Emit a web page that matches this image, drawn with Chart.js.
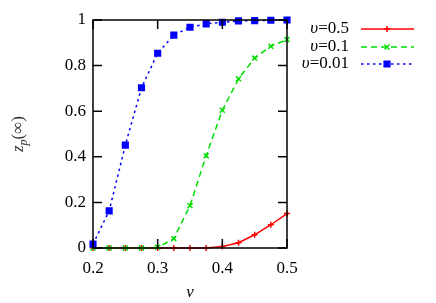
<!DOCTYPE html>
<html>
<head>
<meta charset="utf-8">
<script src="https://cdn.jsdelivr.net/npm/chart.js@4/dist/chart.umd.min.js"></script>
<style>
  html, body { margin:0; padding:0; background:#fff; }
  #wrap { width:436px; height:303px; }
</style>
</head>
<body>
<div id="wrap"><canvas id="c"></canvas></div>
<script>
// nu values on the x axis
const nu = [0.2, 0.225, 0.25, 0.275, 0.3, 0.325, 0.35, 0.375, 0.4, 0.425, 0.45, 0.475, 0.5];
// z_p(inf) for each upsilon
const zp05  = [0, 0, 0, 0, 0, 0, 0, 0, 0.007, 0.023, 0.058, 0.102, 0.151];
const zp01  = [0, 0, 0, 0, 0.003, 0.041, 0.186, 0.405, 0.604, 0.742, 0.833, 0.885, 0.914];
const zp001 = [0.017, 0.163, 0.451, 0.703, 0.854, 0.934, 0.968, 0.983, 0.99, 0.996, 0.997, 0.999, 1.0];
const seriesNames = ['0.5', '0.1', '0.01'];
const xTicks = [0.2, 0.3, 0.4, 0.5];
const yTicks = [0, 0.2, 0.4, 0.6, 0.8, 1];

const FONT = '"Liberation Serif", "DejaVu Serif", serif';
const pts = ys => nu.map((x, i) => ({ x, y: ys[i] }));

// inward ticks on all four sides + frame
const frame = {
  id: 'frame',
  afterDatasetsDraw(chart) {
    const { ctx, chartArea: a, scales: { x, y } } = chart;
    ctx.save();
    ctx.strokeStyle = '#000';
    ctx.lineWidth = 1.5;
    ctx.beginPath();
    xTicks.forEach(v => {
      const px = x.getPixelForValue(v);
      ctx.moveTo(px, a.bottom); ctx.lineTo(px, a.bottom - 9);
      ctx.moveTo(px, a.top); ctx.lineTo(px, a.top + 9);
    });
    yTicks.forEach(v => {
      const py = y.getPixelForValue(v);
      ctx.moveTo(a.left, py); ctx.lineTo(a.left + 9, py);
      ctx.moveTo(a.right, py); ctx.lineTo(a.right - 9, py);
    });
    ctx.stroke();
    ctx.strokeRect(a.left, a.top, a.right - a.left, a.bottom - a.top);
    ctx.restore();
  }
};

// axis titles (subscript on y) and gnuplot style legend
const labels = {
  id: 'labels',
  afterDraw(chart) {
    const { ctx, chartArea: a } = chart;
    ctx.save();
    ctx.fillStyle = '#000';
    ctx.textBaseline = 'middle';
    // x title
    ctx.font = 'italic 17px ' + FONT;
    ctx.textAlign = 'center';
    ctx.fillText('ν', (a.left + a.right) / 2, 293);

    // y title, rotated
    ctx.translate(19, (a.top + a.bottom) / 2);
    ctx.rotate(-Math.PI / 2);
    ctx.fillStyle = '#333';
    ctx.font = 'italic 17px ' + FONT;
    const w1 = ctx.measureText('z').width;
    ctx.font = 'italic 12px ' + FONT;
    const w2 = ctx.measureText('p').width;
    ctx.font = '17px ' + FONT;
    const w3 = ctx.measureText('(∞)').width;
    let sx = -(w1 + w2 + w3) / 2;
    ctx.textAlign = 'left';
    ctx.font = 'italic 17px ' + FONT;
    ctx.fillText('z', sx, 0); sx += w1;
    ctx.font = 'italic 12px ' + FONT;
    ctx.fillText('p', sx, 5); sx += w2;
    ctx.font = '17px ' + FONT;
    ctx.fillText('(∞)', sx, 0);
    ctx.setTransform(1, 0, 0, 1, 0, 0);

    // legend
    const rows = [29, 47, 64];
    chart.data.datasets.forEach((ds, i) => {
      const yy = rows[i];
      ctx.fillStyle = '#000';
      ctx.textAlign = 'right';
      ctx.font = '17px ' + FONT;
      const rest = '=' + seriesNames[i];
      const wr = ctx.measureText(rest).width;
      ctx.fillText(rest, 349, yy);
      ctx.font = 'italic 17px ' + FONT;
      ctx.fillText('υ', 349 - wr, yy);
      ctx.strokeStyle = ds.borderColor;
      ctx.lineWidth = ds.borderWidth;
      ctx.setLineDash(ds.borderDash || []);
      ctx.beginPath();
      ctx.moveTo(361, yy); ctx.lineTo(414, yy);
      ctx.stroke();
      ctx.setLineDash([]);
      ctx.fillStyle = ds.borderColor;
      Chart.helpers.drawPoint(ctx, {
        pointStyle: ds.pointStyle, radius: ds.pointRadius, borderWidth: ds.pointBorderWidth
      }, 387, yy);
    });
    ctx.restore();
  }
};

const mk = (ys, color, dash, style, r, order) => ({
  data: pts(ys),
  borderColor: color,
  backgroundColor: color,
  borderWidth: 1.5,
  borderDash: dash,
  pointStyle: style,
  pointRadius: r,
  pointBorderWidth: 1.5,
  pointBorderColor: color,
  pointBackgroundColor: color,
  tension: 0,
  clip: false,
  order
});

new Chart(document.getElementById('c'), {
  type: 'line',
  data: {
    datasets: [
      mk(zp05, '#ff0000', [], 'cross', 3, 3),
      mk(zp01, '#00dd00', [6, 4], 'crossRot', 3.5, 2),
      mk(zp001, '#0000ff', [2.5, 3.5], 'rect', 4, 1)
    ]
  },
  options: {
    responsive: true,
    maintainAspectRatio: false,
    animation: false,
    events: [],
    layout: { padding: { top: 20, right: 149, left: 0, bottom: 0 } },
    plugins: { legend: { display: false }, tooltip: { enabled: false } },
    scales: {
      x: {
        type: 'linear', min: 0.2, max: 0.5,
        afterBuildTicks: s => { s.ticks = xTicks.map(v => ({ value: v })); },
        afterFit: s => { s.height = 55; },
        grid: { display: false, drawTicks: false },
        border: { display: false },
        ticks: { color: '#000', padding: 10, font: { family: FONT, size: 17 },
                 callback: v => String(+v.toFixed(2)) }
      },
      y: {
        min: 0, max: 1,
        afterBuildTicks: s => { s.ticks = yTicks.map(v => ({ value: v })); },
        afterFit: s => { s.width = 93; },
        grid: { display: false, drawTicks: false },
        border: { display: false },
        ticks: { color: '#000', padding: 7, font: { family: FONT, size: 17 },
                 callback: v => String(+v.toFixed(2)) }
      }
    }
  },
  plugins: [frame, labels]
});
</script>
</body>
</html>
